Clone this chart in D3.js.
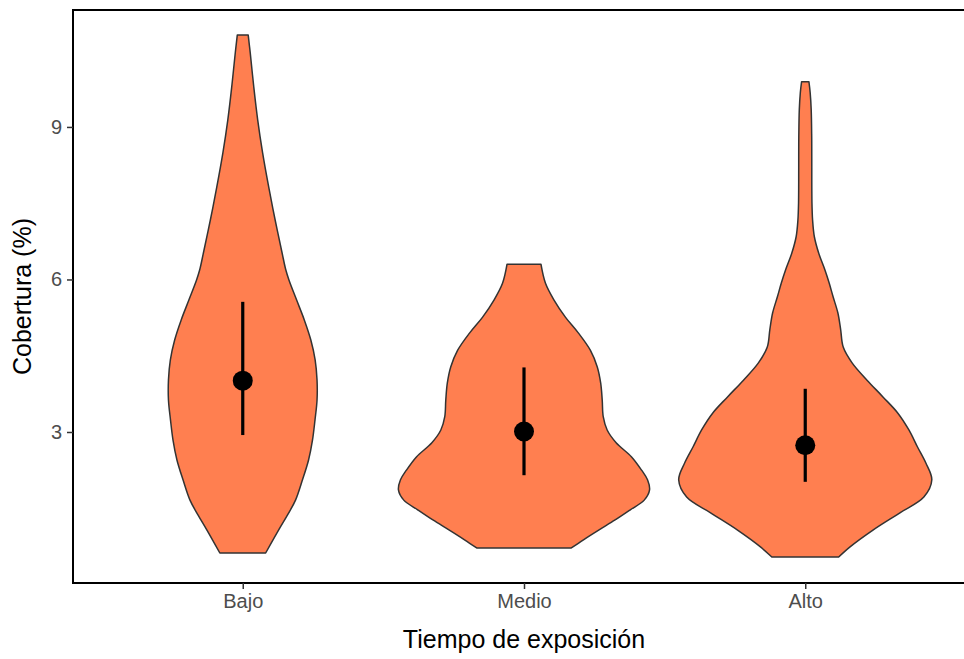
<!DOCTYPE html>
<html>
<head>
<meta charset="utf-8">
<script src="https://cdn.jsdelivr.net/npm/d3@7/dist/d3.min.js"></script>
<style>
  html, body { margin: 0; padding: 0; background: #ffffff; }
  svg { display: block; font-family: Arial, "Liberation Sans", sans-serif; }
</style>
</head>
<body>
<svg id="chart" width="964" height="659"></svg>
<script>
// ---------- DATA ----------
const categories = ["Bajo", "Medio", "Alto"];
const yTicks = [3, 6, 9];
const xTitle = "Tiempo de exposición";
const yTitle = "Cobertura (%)";

// violin profiles: value and relative density
const bajoValues   = [10.81, 10.46, 9.79, 9.14, 8.49, 7.82, 7.17, 6.52, 6.19, 5.99, 5.60, 5.20, 4.81, 4.42, 4.02, 3.63, 3.24, 2.84, 2.45, 2.06, 1.66, 1.37, 1.07, 0.62];
const bajoDensity  = [0.043, 0.059, 0.087, 0.118, 0.157, 0.205, 0.256, 0.311, 0.340, 0.365, 0.425, 0.487, 0.538, 0.572, 0.587, 0.587, 0.571, 0.551, 0.520, 0.472, 0.417, 0.354, 0.283, 0.181];

const medioValues  = [6.30, 5.93, 5.60, 5.26, 4.95, 4.61, 4.28, 3.96, 3.63, 3.30, 3.04, 2.79, 2.51, 2.25, 2.06, 1.86, 1.66, 1.47, 1.27, 1.07, 0.88, 0.72];
const medioDensity = [0.134, 0.169, 0.236, 0.327, 0.429, 0.524, 0.579, 0.606, 0.618, 0.626, 0.657, 0.728, 0.850, 0.929, 0.976, 0.992, 0.950, 0.840, 0.720, 0.590, 0.470, 0.374];

const altoValues   = [9.89, 9.67, 9.34, 8.80, 7.50, 7.17, 6.84, 6.52, 6.19, 5.93, 5.66, 5.34, 5.01, 4.67, 4.36, 4.02, 3.69, 3.37, 3.04, 2.71, 2.39, 2.06, 1.72, 1.41, 1.07, 0.74, 0.54];
const altoDensity  = [0.029, 0.039, 0.047, 0.051, 0.053, 0.058, 0.072, 0.106, 0.155, 0.189, 0.220, 0.258, 0.280, 0.300, 0.370, 0.488, 0.614, 0.732, 0.819, 0.886, 0.953, 1.000, 0.937, 0.748, 0.535, 0.354, 0.264];

// summary (point + range)
const means = [4.01, 3.01, 2.74];
const lows  = [2.94, 2.15, 2.02];
const highs = [5.56, 4.27, 3.85];

// ---------- LAYOUT ----------
const svg = d3.select("#chart");
const panel = { left: 73, right: 974, top: 10, bottom: 583 };
const fillColor = "#FF7F50";

const x = d3.scalePoint().domain(categories).range([panel.left + 1, panel.right]).padding(0.6);
const y = d3.scaleLinear().domain([0.03, 11.30]).range([panel.bottom, panel.top]);
const w = d3.scaleLinear().domain([0, 1]).range([0, 0.45 * x.step()]);

const profiles = [
  d3.zip(bajoValues, bajoDensity),
  d3.zip(medioValues, medioDensity),
  d3.zip(altoValues, altoDensity)
];

const g = svg.append("g");

// violins
categories.forEach((c, i) => {
  const cx = x(c);
  const area = d3.area()
    .y(d => y(d[0]))
    .x0(d => cx - w(d[1]))
    .x1(d => cx + w(d[1]))
    .curve(d3.curveCatmullRom);
  g.append("path")
    .attr("d", area(profiles[i]))
    .attr("fill", fillColor)
    .attr("stroke", "#333333")
    .attr("stroke-width", 1.5)
    .attr("stroke-linejoin", "round");
});

// point ranges
categories.forEach((c, i) => {
  g.append("line")
    .attr("x1", x(c)).attr("x2", x(c))
    .attr("y1", y(lows[i])).attr("y2", y(highs[i]))
    .attr("stroke", "#000").attr("stroke-width", 3.2);
  g.append("circle")
    .attr("cx", x(c)).attr("cy", y(means[i]))
    .attr("r", 10).attr("fill", "#000");
});

// panel border (top + left + bottom; right is off-canvas)
svg.append("rect")
  .attr("x", panel.left).attr("y", panel.top)
  .attr("width", panel.right - panel.left)
  .attr("height", panel.bottom - panel.top)
  .attr("fill", "none").attr("stroke", "#000").attr("stroke-width", 2);

// y axis
const yAxis = d3.axisLeft(y).tickValues(yTicks).tickSize(6).tickPadding(5).tickFormat(d3.format("d"));
const ya = svg.append("g").attr("transform", `translate(${panel.left},0)`).call(yAxis);
ya.select(".domain").remove();
ya.selectAll(".tick line").attr("stroke", "#333").attr("stroke-width", 1.5);
ya.selectAll(".tick text").attr("fill", "#4d4d4d").attr("font-size", 20).attr("font-family", "Arial, 'Liberation Sans', sans-serif");

// x axis
const xAxis = d3.axisBottom(x).tickSize(6).tickPadding(5);
const xa = svg.append("g").attr("transform", `translate(0,${panel.bottom})`).call(xAxis);
xa.select(".domain").remove();
xa.selectAll(".tick line").attr("stroke", "#333").attr("stroke-width", 1.5);
xa.selectAll(".tick text").attr("fill", "#4d4d4d").attr("font-size", 20).attr("font-family", "Arial, 'Liberation Sans', sans-serif");

// titles
svg.append("text")
  .attr("x", x(categories[1])).attr("y", 648)
  .attr("text-anchor", "middle")
  .attr("font-size", 25).attr("fill", "#000")
  .text(xTitle);

svg.append("text")
  .attr("transform", `translate(31,${(panel.top + panel.bottom) / 2}) rotate(-90)`)
  .attr("text-anchor", "middle")
  .attr("font-size", 25).attr("fill", "#000")
  .text(yTitle);
</script>
</body>
</html>
